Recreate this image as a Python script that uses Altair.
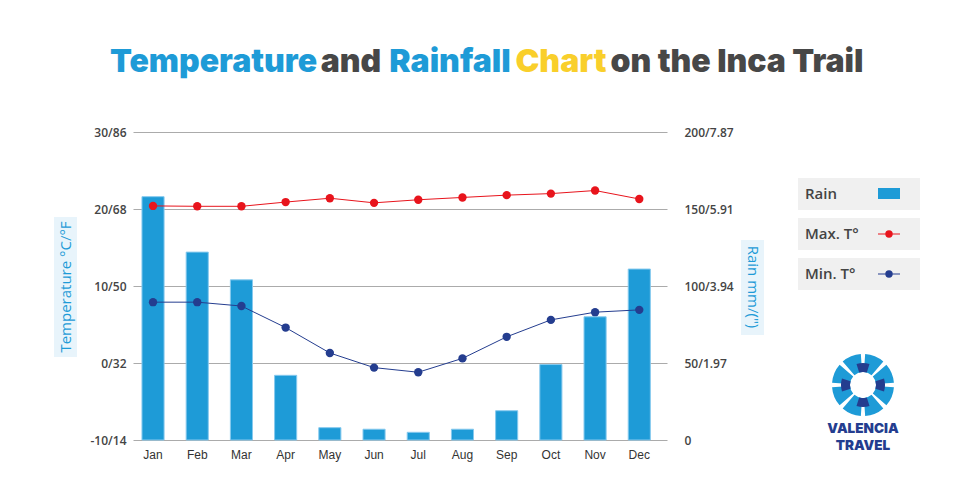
import math
import altair as alt
import pandas as pd

# ---------------- data ----------------
months = ["Jan", "Feb", "Mar", "Apr", "May", "Jun", "Jul", "Aug", "Sep", "Oct", "Nov", "Dec"]
rain_mm = [158, 122, 104, 42, 8, 7, 5, 7, 19, 49, 80, 111]
max_temp = [20.4, 20.35, 20.35, 20.9, 21.4, 20.8, 21.2, 21.5, 21.8, 22.0, 22.4, 21.3]
min_temp = [7.9, 7.9, 7.4, 4.6, 1.3, -0.6, -1.2, 0.6, 3.4, 5.6, 6.6, 6.9]

temp_ticks = [-10, 0, 10, 20, 30]
temp_tick_labels = ["-10/14", "0/32", "10/50", "20/68", "30/86"]
rain_ticks = [0, 50, 100, 150, 200]
rain_tick_labels = ["0", "50/1.97", "100/3.94", "150/5.91", "200/7.87"]

title_words = ["Temperature", "and", "Rainfall", "Chart", "on the Inca Trail"]
title_colors = ["#1e9bd7", "#474747", "#1e9bd7", "#f9cf2b", "#474747"]
title_centers = [80.5, 218, 317, 428, 604]

legend_labels = ["Rain", "Max. T°", "Min. T°"]

BLUE = "#1e9bd7"
RED = "#e8141c"
NAVY = "#243d8f"
GRID = "#ababab"
TXT = "#444444"


def label_expr(ticks, labels):
    expr = "''"
    for t, l in reversed(list(zip(ticks, labels))):
        expr = f"datum.value == {t} ? '{l}' : ({expr})"
    return expr


df = pd.DataFrame({"month": months, "rain": rain_mm, "tmax": max_temp, "tmin": min_temp})

x_enc = alt.X(
    "month:N",
    sort=months,
    scale=alt.Scale(paddingInner=0.5, paddingOuter=0.29, align=0.35),
    axis=alt.Axis(title=None, labelAngle=0, domain=False, ticks=False, labelPadding=9,
                  labelFont="Liberation Sans", labelFontSize=12, labelColor="#333333"),
)

base = alt.Chart(df)

bars = base.mark_bar(color=BLUE, stroke="#86c9ee", strokeWidth=1).encode(
    x=x_enc,
    y=alt.Y("rain:Q", scale=alt.Scale(domain=[0, 200], nice=False),
            axis=alt.Axis(orient="right", values=rain_ticks,
                          labelExpr=label_expr(rain_ticks, rain_tick_labels),
                          title=None, grid=False, domain=False, ticks=False, labelPadding=17,
                          labelFont="Open Sans", labelFontWeight=600, labelFontSize=12,
                          labelColor=TXT)),
)

temp_axis = alt.Axis(orient="left", values=temp_ticks,
                     labelExpr=label_expr(temp_ticks, temp_tick_labels),
                     title=None, grid=True, gridColor=GRID, gridWidth=1, domain=False,
                     ticks=False, labelPadding=7, labelFont="Open Sans", labelFontWeight=600,
                     labelFontSize=12, labelColor=TXT)
temp_scale = alt.Scale(domain=[-10, 30], nice=False)

max_line = base.mark_line(color=RED, strokeWidth=1).encode(
    x=x_enc, y=alt.Y("tmax:Q", scale=temp_scale, axis=temp_axis))
max_pts = base.mark_circle(color=RED, size=70, opacity=1).encode(
    x=x_enc, y=alt.Y("tmax:Q", scale=temp_scale, axis=temp_axis))
min_line = base.mark_line(color=NAVY, strokeWidth=1).encode(
    x=x_enc, y=alt.Y("tmin:Q", scale=temp_scale, axis=temp_axis))
min_pts = base.mark_circle(color=NAVY, size=70, opacity=1).encode(
    x=x_enc, y=alt.Y("tmin:Q", scale=temp_scale, axis=temp_axis))

temp_layer = alt.layer(max_line, max_pts, min_line, min_pts)

plot = alt.layer(bars, temp_layer).resolve_scale(y="independent")

# ---------------- decorations ----------------
one = alt.Chart(pd.DataFrame({"a": [0]}))

deco = []

# multicoloured title
for w, c, cx in zip(title_words, title_colors, title_centers):
    deco.append(one.mark_text(text=w, font="Inter", fontWeight=900, fontSize=32, color=c,
                              align="center", baseline="alphabetic")
                .encode(x=alt.value(cx), y=alt.value(-60)))

# axis titles with light background
deco.append(one.mark_rect(color="#e8f4fb").encode(
    x=alt.value(-79), x2=alt.value(-56), y=alt.value(85), y2=alt.value(225)))
deco.append(one.mark_text(text="Temperature °C/°F", font="Open Sans", fontWeight=500,
                          fontSize=15, color=BLUE, angle=270, align="center",
                          baseline="middle").encode(x=alt.value(-67), y=alt.value(155)))
deco.append(one.mark_rect(color="#e8f4fb").encode(
    x=alt.value(608), x2=alt.value(631), y=alt.value(108), y2=alt.value(203)))
deco.append(one.mark_text(text='Rain mm/(")', font="Open Sans", fontWeight=500,
                          fontSize=15, color=BLUE, angle=90, align="center",
                          baseline="middle").encode(x=alt.value(619.5), y=alt.value(155)))

# legend
box_tops = [46, 86, 126]
for lab, top in zip(legend_labels, box_tops):
    deco.append(one.mark_rect(color="#f0f0f0").encode(
        x=alt.value(665), x2=alt.value(787), y=alt.value(top), y2=alt.value(top + 32)))
    deco.append(one.mark_text(text=lab, font="Open Sans", fontWeight=600, fontSize=15,
                              color=TXT, align="left", baseline="middle")
                .encode(x=alt.value(672), y=alt.value(top + 16)))
deco.append(one.mark_rect(color=BLUE).encode(
    x=alt.value(745), x2=alt.value(767), y=alt.value(56), y2=alt.value(67)))
for top, col in [(86, RED), (126, NAVY)]:
    deco.append(one.mark_rule(color=col, strokeWidth=1).encode(
        x=alt.value(745), x2=alt.value(767), y=alt.value(top + 16)))
    deco.append(one.mark_circle(color=col, size=55, opacity=1).encode(
        x=alt.value(756), y=alt.value(top + 16)))

# logo
ring = pd.DataFrame({
    "t0": [k * math.pi / 4 + 0.07 for k in range(8)],
    "t1": [(k + 1) * math.pi / 4 - 0.07 for k in range(8)],
})
deco.append(alt.Chart(ring).mark_arc(color=BLUE, radius=31, radius2=13).encode(
    theta=alt.Theta("t0:Q", scale=None), theta2="t1:Q",
    x=alt.value(730), y=alt.value(253)))
dark = pd.DataFrame({
    "t0": [k * math.pi / 2 - 0.3 for k in range(4)],
    "t1": [k * math.pi / 2 + 0.3 for k in range(4)],
})
deco.append(alt.Chart(dark).mark_arc(color=NAVY, radius=22, radius2=13).encode(
    theta=alt.Theta("t0:Q", scale=None), theta2="t1:Q",
    x=alt.value(730), y=alt.value(253)))
deco.append(one.mark_text(text="VALENCIA", font="Inter", fontWeight=900, fontSize=13.5,
                          color=NAVY, align="center", baseline="middle")
            .encode(x=alt.value(730), y=alt.value(297)))
deco.append(one.mark_text(text="TRAVEL", font="Inter", fontWeight=900, fontSize=13.5,
                          color=NAVY, align="center", baseline="middle")
            .encode(x=alt.value(730), y=alt.value(314)))

chart = alt.layer(plot, *deco).properties(
    width=534,
    height=308,
    autosize=alt.AutoSizeParams(type="none"),
    padding={"left": 125, "top": 124, "right": 290, "bottom": 60},
).configure_view(stroke=None)

chart.save("out.html", embed_options={"renderer": "svg", "actions": False})
